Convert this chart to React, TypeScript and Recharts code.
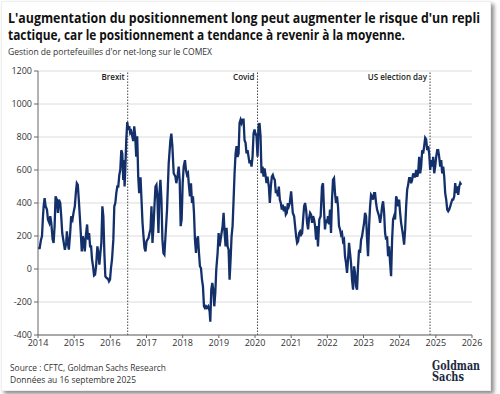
import { LineChart, Line, CartesianGrid, XAxis, YAxis, ReferenceLine } from "recharts";

// net-long gold positioning on COMEX, [decimal year, value]
const pos2014to2017: [number, number][] = [
  [2014.0, 127], [2014.046, 127], [2014.083, 178], [2014.11, 198], [2014.138, 320], [2014.156, 380],
  [2014.183, 430], [2014.211, 380], [2014.248, 360], [2014.275, 300], [2014.312, 280], [2014.339, 320],
  [2014.367, 280], [2014.404, 180], [2014.431, 158], [2014.459, 260], [2014.486, 440], [2014.523, 420],
  [2014.55, 340], [2014.578, 420], [2014.615, 400], [2014.642, 320], [2014.67, 218], [2014.706, 168],
  [2014.743, 117], [2014.78, 158], [2014.798, 228], [2014.826, 158], [2014.853, 117], [2014.89, 218],
  [2014.917, 320], [2014.954, 300], [2014.982, 340], [2015.018, 380], [2015.046, 460], [2015.073, 520],
  [2015.101, 510], [2015.128, 420], [2015.156, 320], [2015.183, 218], [2015.211, 107], [2015.239, 198],
  [2015.266, 168], [2015.294, 107], [2015.321, 198], [2015.358, 270], [2015.385, 178], [2015.413, 218],
  [2015.44, 137], [2015.468, 137], [2015.495, 56], [2015.523, 16], [2015.55, -40], [2015.578, -35],
  [2015.606, 16], [2015.642, 137], [2015.67, 97], [2015.697, 26], [2015.725, 97], [2015.752, 158],
  [2015.78, 380], [2015.807, 320], [2015.835, 97], [2015.862, -44], [2015.899, -55], [2015.936, -60],
  [2015.963, -75], [2015.991, -65], [2016.018, 6], [2016.046, 56], [2016.083, 178], [2016.11, 380],
  [2016.138, 400], [2016.165, 460], [2016.193, 500], [2016.22, 500], [2016.248, 570], [2016.275, 600],
  [2016.303, 720], [2016.33, 700], [2016.358, 540], [2016.376, 660], [2016.394, 500], [2016.413, 600],
  [2016.44, 780], [2016.468, 890], [2016.495, 845], [2016.523, 865], [2016.55, 825], [2016.578, 835],
  [2016.606, 805], [2016.633, 775], [2016.661, 865], [2016.688, 805], [2016.716, 680], [2016.743, 805],
  [2016.771, 560], [2016.798, 460], [2016.817, 520], [2016.835, 555], [2016.862, 420], [2016.89, 280],
  [2016.917, 198], [2016.945, 127], [2016.972, 107], [2017.0, 168], [2017.028, 178], [2017.055, 188],
  [2017.083, 218], [2017.11, 240], [2017.138, 380], [2017.165, 158], [2017.193, 260], [2017.22, 380],
  [2017.248, 500], [2017.275, 510], [2017.303, 420], [2017.33, 218], [2017.358, 460], [2017.385, 540],
  [2017.413, 420], [2017.44, 178], [2017.468, 97], [2017.495, 88],
];

const pos2017to2021: [number, number][] = [
  [2017.568, 360], [2017.614, 640], [2017.66, 780], [2017.687, 820], [2017.715, 745], [2017.752, 580],
  [2017.798, 560], [2017.825, 520], [2017.862, 570], [2017.89, 620], [2017.917, 540], [2017.945, 260],
  [2017.972, 300], [2018.0, 520], [2018.028, 620], [2018.064, 660], [2018.092, 600], [2018.12, 570],
  [2018.147, 580], [2018.175, 500], [2018.202, 440], [2018.23, 520], [2018.258, 400], [2018.285, 440],
  [2018.313, 340], [2018.34, 178], [2018.368, 97], [2018.396, 178], [2018.423, 198], [2018.451, 97],
  [2018.478, 16], [2018.506, 6], [2018.534, -65], [2018.561, -105], [2018.589, -226], [2018.616, -236],
  [2018.644, -226], [2018.672, -236], [2018.708, -226], [2018.745, -256], [2018.764, -320], [2018.791, -125],
  [2018.819, -85], [2018.846, -125], [2018.874, -226], [2018.902, -145], [2018.929, -4], [2018.966, 97],
  [2018.994, 218], [2019.021, 137], [2019.049, 178], [2019.076, 218], [2019.104, 260], [2019.132, 340],
  [2019.159, 218], [2019.187, 137], [2019.214, 250], [2019.242, 137], [2019.27, 117], [2019.297, -65],
  [2019.325, 56], [2019.352, 198], [2019.38, 260], [2019.408, 420], [2019.435, 580], [2019.463, 700],
  [2019.49, 745], [2019.518, 680], [2019.546, 700], [2019.573, 885], [2019.601, 905], [2019.628, 885],
  [2019.656, 905], [2019.684, 905], [2019.711, 780], [2019.739, 765], [2019.766, 700], [2019.794, 720],
  [2019.822, 680], [2019.849, 640], [2019.877, 660], [2019.904, 620], [2019.932, 680], [2019.96, 820],
  [2019.987, 845], [2020.015, 820], [2020.042, 805], [2020.07, 680], [2020.098, 865], [2020.125, 885],
  [2020.153, 805], [2020.18, 580], [2020.208, 620], [2020.236, 560], [2020.263, 610], [2020.291, 570],
  [2020.318, 520], [2020.346, 560], [2020.383, 500], [2020.41, 400], [2020.438, 500], [2020.466, 560],
  [2020.493, 570], [2020.521, 550], [2020.548, 540], [2020.576, 460], [2020.604, 480], [2020.631, 440],
  [2020.659, 500], [2020.686, 420], [2020.714, 400], [2020.741, 360], [2020.769, 390], [2020.797, 350],
  [2020.824, 380], [2020.852, 330], [2020.879, 340], [2020.907, 400], [2020.935, 380], [2020.962, 400],
  [2020.999, 470], [2021.045, 340], [2021.082, 320], [2021.109, 260], [2021.137, 198], [2021.165, 158],
  [2021.192, 168], [2021.22, 218], [2021.247, 228], [2021.275, 208], [2021.303, 218], [2021.33, 300],
  [2021.358, 380], [2021.385, 400], [2021.413, 360], [2021.44, 280], [2021.468, 240], [2021.496, 310],
  [2021.523, 340], [2021.551, 330], [2021.578, 280], [2021.606, 320], [2021.634, 300], [2021.661, 260],
  [2021.689, 178], [2021.716, 260],
];

const pos2021to2025: [number, number][] = [
  [2021.741, 137], [2021.778, 300], [2021.815, 320], [2021.852, 500], [2021.88, 520], [2021.908, 360],
  [2021.935, 240], [2021.963, 300], [2021.991, 280], [2022.018, 320], [2022.046, 270], [2022.074, 360],
  [2022.102, 218], [2022.129, 420], [2022.157, 540], [2022.185, 550], [2022.212, 460], [2022.24, 400],
  [2022.268, 440], [2022.295, 380], [2022.323, 260], [2022.351, 240], [2022.379, 208], [2022.406, 218],
  [2022.434, 168], [2022.462, 178], [2022.489, 77], [2022.517, 36], [2022.545, -24], [2022.572, 56],
  [2022.6, 158], [2022.628, 97], [2022.655, 36], [2022.683, -65], [2022.711, -125], [2022.739, 16],
  [2022.766, -24], [2022.794, -105], [2022.822, -125], [2022.849, 16], [2022.877, 117], [2022.905, 97],
  [2022.933, 178], [2022.96, 198], [2022.988, 240], [2023.016, 280], [2023.043, 340], [2023.071, 320],
  [2023.099, 178], [2023.126, 77], [2023.154, 260], [2023.182, 380], [2023.209, 450], [2023.237, 440],
  [2023.265, 420], [2023.293, 460], [2023.32, 460], [2023.348, 400], [2023.375, 360], [2023.403, 340],
  [2023.431, 320], [2023.459, 280], [2023.486, 320], [2023.514, 380], [2023.542, 410], [2023.57, 340],
  [2023.597, 218], [2023.625, 178], [2023.652, 198], [2023.68, 77], [2023.708, 137], [2023.736, 36],
  [2023.763, -44], [2023.791, 178], [2023.818, 300], [2023.846, 320], [2023.874, 300], [2023.902, 440],
  [2023.929, 420], [2023.957, 380], [2023.985, 420], [2024.013, 340], [2024.04, 280], [2024.068, 240],
  [2024.096, 198], [2024.123, 148], [2024.151, 240], [2024.179, 380], [2024.207, 480], [2024.234, 510],
  [2024.262, 550], [2024.29, 550], [2024.317, 520], [2024.345, 540], [2024.373, 580], [2024.401, 560],
  [2024.428, 560], [2024.456, 600], [2024.484, 560], [2024.511, 580], [2024.539, 680], [2024.567, 580],
  [2024.594, 620], [2024.622, 720], [2024.65, 700], [2024.678, 745], [2024.705, 795], [2024.733, 785],
  [2024.761, 720], [2024.788, 745], [2024.816, 700], [2024.844, 600], [2024.871, 660], [2024.899, 620],
  [2024.927, 680], [2024.955, 580], [2024.982, 620], [2025.01, 680], [2025.038, 720], [2025.065, 720],
  [2025.093, 680], [2025.121, 620], [2025.149, 660], [2025.176, 580], [2025.204, 620], [2025.232, 560],
  [2025.259, 460], [2025.287, 420], [2025.315, 360], [2025.342, 350], [2025.37, 360], [2025.398, 380],
  [2025.425, 400], [2025.453, 420], [2025.481, 420], [2025.509, 440], [2025.536, 520], [2025.564, 460],
  [2025.592, 500], [2025.619, 450], [2025.647, 500], [2025.675, 520], [2025.702, 510],
];

const yearTicks = [2014, 2015, 2016, 2017, 2018, 2019, 2020, 2021, 2022, 2023, 2024, 2025, 2026];
const valueTicks = [-400, -200, 0, 200, 400, 600, 800, 1000, 1200];
const events = [
  { x: 2016.48, label: "Brexit" },
  { x: 2020.07, label: "Covid" },
  { x: 2024.84, label: "US election day" },
];

const data = [...pos2014to2017, ...pos2017to2021, ...pos2021to2025].map(([t, v]) => ({ t, v }));

const font = "'Open Sans', sans-serif";

export default function App() {
  return (
    <div style={{ position: "absolute", left: 0, top: 0, width: 500, height: 394, background: "#fff", fontFamily: font }}>
      <style>{`body{margin:0}`}</style>
      <div
        style={{
          position: "absolute", left: 1, top: 1, width: 488, height: 388, background: "#fff",
          boxShadow: "3px 3px 4px rgba(0,0,0,0.45)", border: "1px solid #eee",
        }}
      />
      <svg width={500} height={60} style={{ position: "absolute", left: 0, top: 0 }}>
        <g fontFamily={font} fontWeight={700} fontSize={14.5} fill="#111">
          <text x={8} y={23} textLength={472} lengthAdjust="spacingAndGlyphs">
            L'augmentation du positionnement long peut augmenter le risque d'un repli
          </text>
          <text x={8} y={40} textLength={397} lengthAdjust="spacingAndGlyphs">
            tactique, car le positionnement a tendance à revenir à la moyenne.
          </text>
        </g>
        <text x={8} y={55} fontFamily={font} fontSize={9.5} fill="#333" textLength={204} lengthAdjust="spacingAndGlyphs">
          Gestion de portefeuilles d'or net-long sur le COMEX
        </text>
      </svg>

      <div style={{ position: "absolute", left: 0, top: 62 }}>
        <LineChart width={490} height={290} data={data} margin={{ top: 9, right: 18, left: 0, bottom: 0 }}>
          <CartesianGrid vertical={false} stroke="#dcdcdc" />
          <XAxis
            dataKey="t" type="number" domain={[2014, 2026]} ticks={yearTicks} height={17}
            tick={{ fontSize: 9, fill: "#333", fontFamily: font }} tickSize={3} tickMargin={2}
            stroke="#666" interval={0}
          />
          <YAxis
            type="number" domain={[-400, 1200]} ticks={valueTicks} width={38}
            tick={{ fontSize: 9, fill: "#333", fontFamily: font }} tickSize={4} tickMargin={2}
            stroke="#666" interval={0}
          />
          {events.map((e) => (
            <ReferenceLine
              key={e.label} x={e.x} stroke="#444" strokeDasharray="1.5 1.5"
              label={{ value: e.label, position: "insideTopRight", offset: 3, fontSize: 8, fontWeight: 600, fill: "#222", fontFamily: font }}
            />
          ))}
          <Line type="linear" dataKey="v" stroke="#13306b" strokeWidth={2.3} dot={false} isAnimationActive={false} />
        </LineChart>
      </div>

      <svg width={500} height={40} style={{ position: "absolute", left: 0, top: 354 }}>
        <g fontFamily={font} fontSize={9.5} fill="#333">
          <text x={10} y={17} textLength={156} lengthAdjust="spacingAndGlyphs">Source : CFTC, Goldman Sachs Research</text>
          <text x={10} y={29} textLength={126} lengthAdjust="spacingAndGlyphs">Données au 16 septembre 2025</text>
        </g>
        <g fontFamily="'DejaVu Serif', serif" fontWeight={700} fontSize={12.5} fill="#1c2940">
          <text x={432} y={16} textLength={48} lengthAdjust="spacingAndGlyphs">Goldman</text>
          <text x={432} y={27} textLength={32} lengthAdjust="spacingAndGlyphs">Sachs</text>
        </g>
      </svg>
    </div>
  );
}
